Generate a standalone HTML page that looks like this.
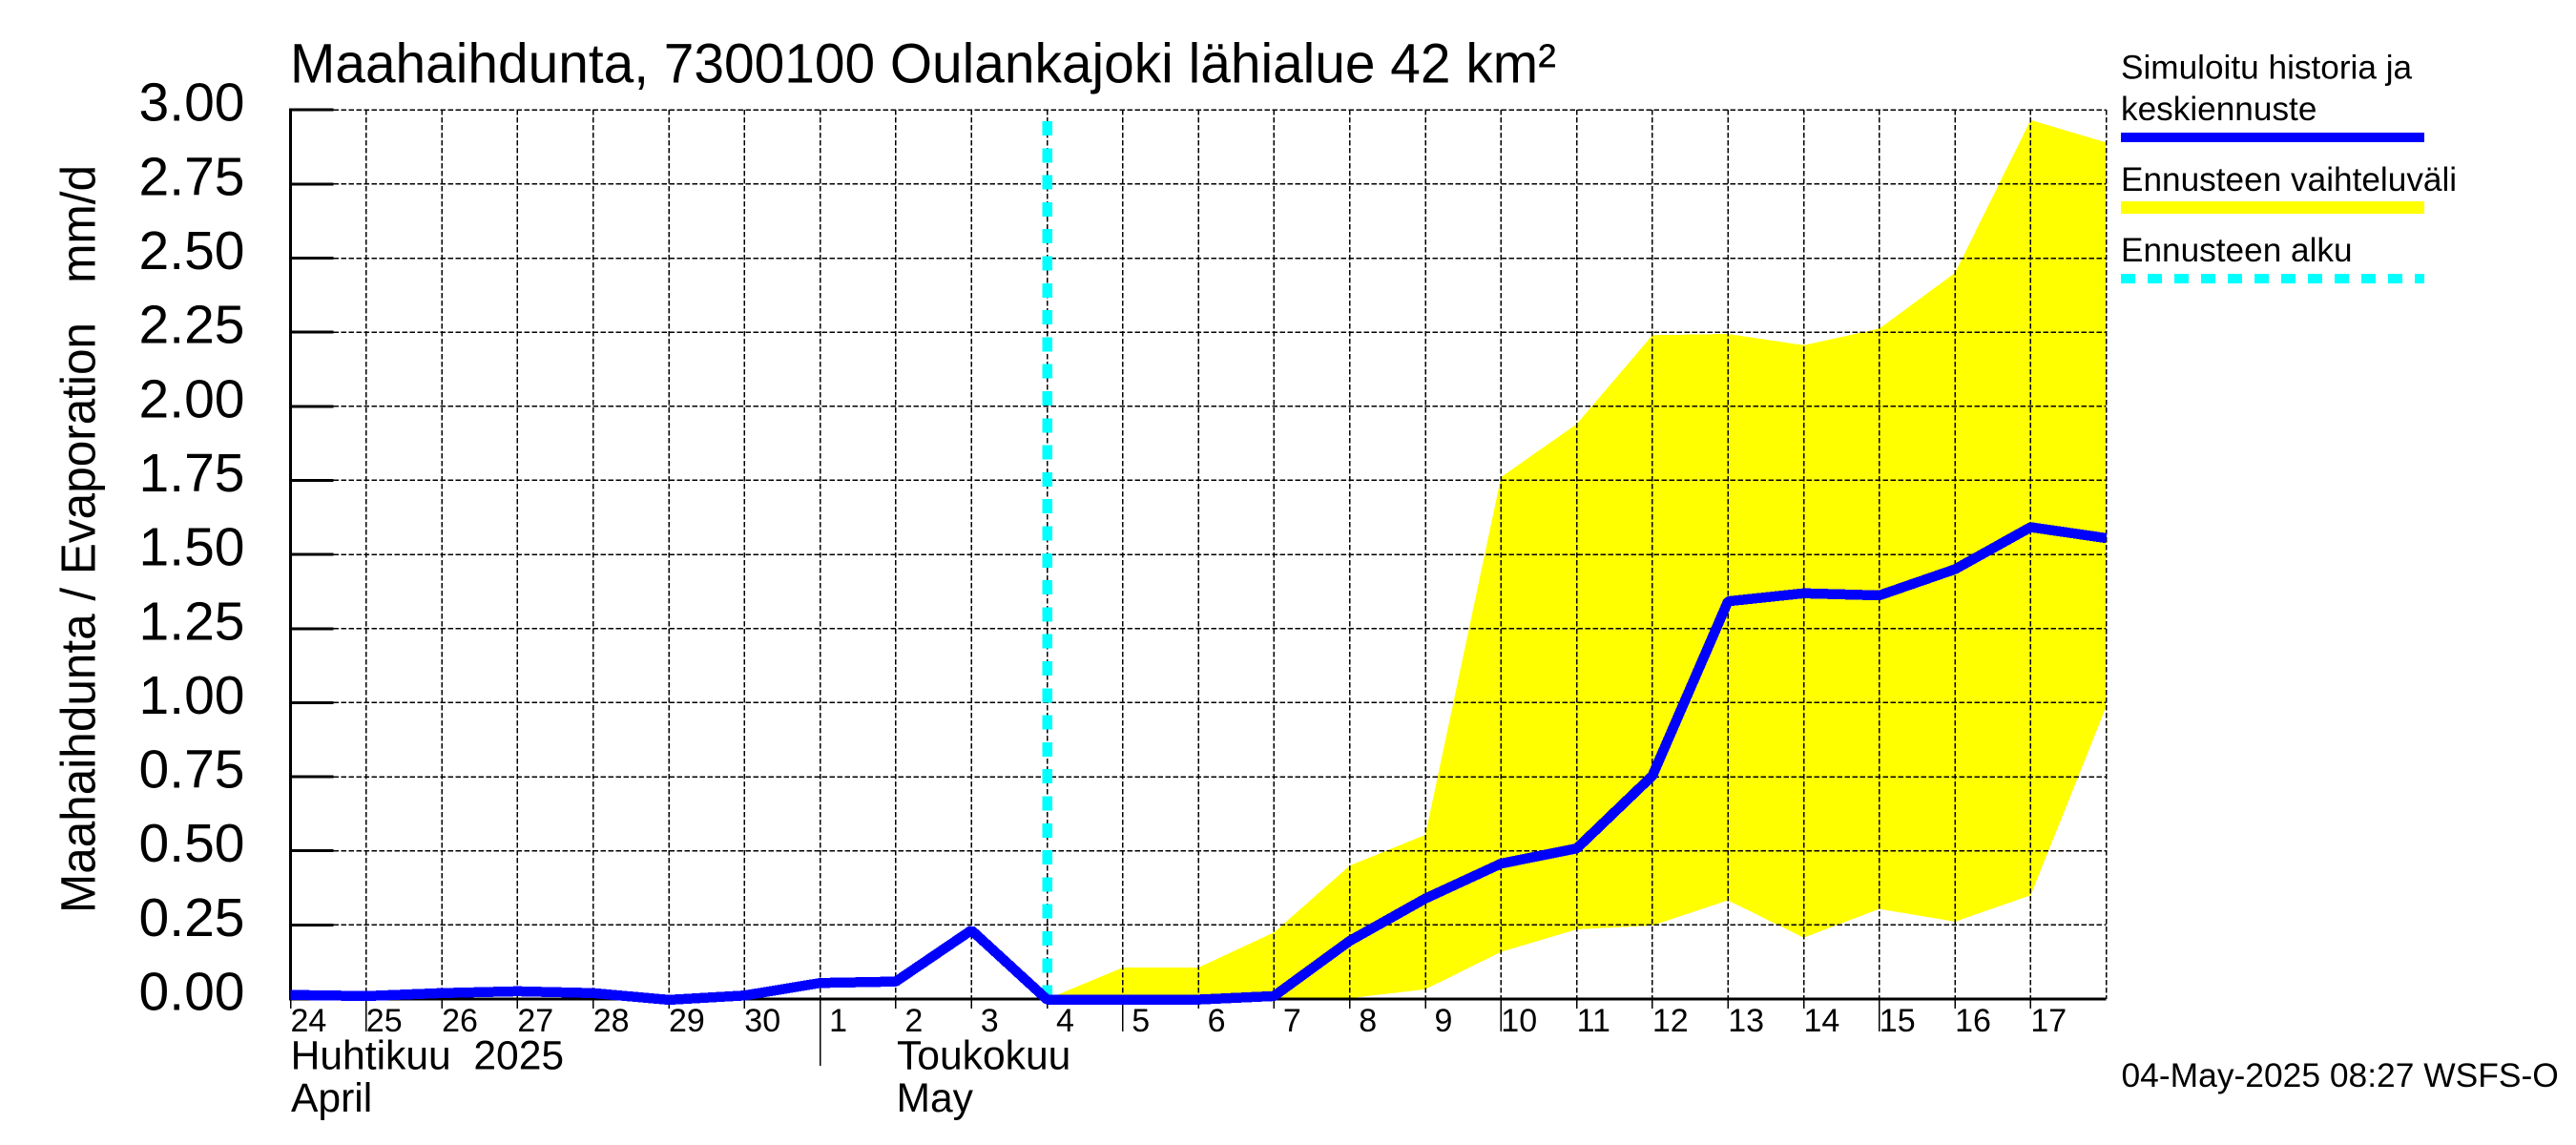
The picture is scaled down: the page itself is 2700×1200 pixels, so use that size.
<!DOCTYPE html>
<html lang="fi">
<head>
<meta charset="utf-8">
<title>Maahaihdunta, 7300100 Oulankajoki lähialue 42 km²</title>
<style>
  html, body { margin: 0; padding: 0; background: #fff; }
  svg { display: block; }
  text { font-family: "Liberation Sans", Arial, sans-serif; fill: #000; white-space: pre; }
</style>
</head>
<body>
<svg id="chart" xmlns="http://www.w3.org/2000/svg" width="2700" height="1200" viewBox="0 0 2700 1200">
  <rect x="0" y="0" width="2700" height="1200" fill="#ffffff"/>
  <text x="304" y="86.7" font-size="58" textLength="1327" lengthAdjust="spacingAndGlyphs">Maahaihdunta, 7300100 Oulankajoki lähialue 42 km²</text>
  <text transform="translate(99.5 957) rotate(-90)" font-size="51" textLength="784" lengthAdjust="spacingAndGlyphs">Maahaihdunta / Evaporation   mm/d</text>

  <g id="series-layer"></g>

  <text x="304.6" y="1120.7" font-size="42.6">Huhtikuu  2025</text>
  <text x="305" y="1165" font-size="42.6">April</text>
  <text x="940" y="1120.7" font-size="42.6">Toukokuu</text>
  <text x="939.5" y="1165" font-size="42.6">May</text>

  <g>
    <text x="2223" y="82.7" font-size="35.2">Simuloitu historia ja</text>
    <text x="2223" y="126" font-size="35.2">keskiennuste</text>
    <rect x="2223" y="139" width="318" height="10" fill="#0000ff" shape-rendering="crispEdges"/>
    <text x="2223" y="200" font-size="35.2">Ennusteen vaihteluväli</text>
    <rect x="2223" y="211" width="318" height="13" fill="#ffff00" shape-rendering="crispEdges"/>
    <text x="2223" y="274" font-size="35.2">Ennusteen alku</text>
    <line x1="2223" y1="292" x2="2541" y2="292" stroke="#00ffff" stroke-width="10" stroke-dasharray="15 13" shape-rendering="crispEdges"/>
  </g>

  <text x="2223.5" y="1139" font-size="35.4">04-May-2025 08:27 WSFS-O</text>
</svg>

<script>
// ---- chart data ----
const dayLabels = ["24","25","26","27","28","29","30","1","2","3","4","5","6","7","8","9","10","11","12","13","14","15","16","17"];
const yTickLabels = ["0.00","0.25","0.50","0.75","1.00","1.25","1.50","1.75","2.00","2.25","2.50","2.75","3.00"];
const yTickValues = [0,0.25,0.5,0.75,1,1.25,1.5,1.75,2,2.25,2.5,2.75,3];
const longTickDays = ["25","5","10","15"];
const monthStartDays = ["1"];
// simulated history + mean forecast, one value per day from 24 April, plus the right-edge value
const simulatedValues = [0.014,0.01,0.02,0.026,0.02,-0.003,0.012,0.054,0.059,0.232,-0.002,-0.002,-0.002,0.01,0.196,0.339,0.457,0.508,0.753,1.342,1.369,1.362,1.45,1.592,1.555];
// forecast band, starting at the forecast start day
const forecastStartIndex = 10;
const forecastUpper = [0,0.106,0.106,0.225,0.45,0.554,1.761,1.94,2.24,2.244,2.206,2.262,2.45,2.966,2.89];
const forecastLower = [0,0,0,0,0.003,0.033,0.159,0.235,0.248,0.333,0.207,0.304,0.261,0.35,0.987];
const forecastLineTop = 2.962;

// ---- axis functions ----
const plotLeft = 304.5, dayWidth = 79.3, zeroY = 1047, unitHeight = 310.6;
const plotRight = plotLeft + dayWidth * 24;
function xAt(i) { return plotLeft + dayWidth * i; }
function yAt(v) { return zeroY - v * unitHeight; }

const NS = "http://www.w3.org/2000/svg";
const layer = document.getElementById("series-layer");
function make(tag, attrs) {
  const el = document.createElementNS(NS, tag);
  for (const k in attrs) el.setAttribute(k, attrs[k]);
  layer.appendChild(el);
  return el;
}

// forecast band
const upperPts = forecastUpper.map((v, i) => xAt(forecastStartIndex + i).toFixed(1) + "," + yAt(v).toFixed(1));
const lowerPts = forecastLower.map((v, i) => xAt(forecastStartIndex + i).toFixed(1) + "," + yAt(v).toFixed(1)).reverse();
const band = make("polygon", { points: upperPts.concat(lowerPts).join(" "), fill: "#ffff00", "shape-rendering": "crispEdges" });



// horizontal grid lines, left ticks and tick labels
yTickValues.forEach((v, i) => {
  const y = yAt(v);
  if (i > 0) {
    const g = make("line", { x1: plotLeft + 45, y1: y, x2: plotRight, y2: y, stroke: "#000", "stroke-width": 1.5, "stroke-dasharray": "5.5 2.5", "shape-rendering": "crispEdges" });
    
    
    const t = make("line", { x1: plotLeft - 1.5, y1: y, x2: plotLeft + 45, y2: y, stroke: "#000", "stroke-width": 3, "shape-rendering": "crispEdges" });
    
    
  }
  const label = make("text", { x: 256.5, y: y + 11.5, "font-size": 57, "text-anchor": "end" });
  label.textContent = yTickLabels[i];
  
  
});

// vertical grid lines, ticks and day labels
dayLabels.forEach((d, i) => {
  const x = xAt(i);
  if (i > 0) {
    const g = make("line", { x1: x, y1: yAt(3), x2: x, y2: zeroY, stroke: "#000", "stroke-width": 1.5, "stroke-dasharray": "5.5 2.5", "shape-rendering": "crispEdges" });
    
    
  }
  let bottom = 1057;
  if (longTickDays.includes(d)) bottom = 1081;
  if (monthStartDays.includes(d)) bottom = 1117;
  const t = make("line", { x1: x, y1: zeroY, x2: x, y2: bottom, stroke: "#000", "stroke-width": 1.5, "shape-rendering": "crispEdges" });
  
  
  const label = make("text", { x: x + (d.length === 1 ? 9.5 : 0), y: 1081, "font-size": 34 });
  label.textContent = d;
  
  
});

// right border of the grid
const rightBorder = make("line", { x1: plotRight, y1: yAt(3), x2: plotRight, y2: zeroY, stroke: "#000", "stroke-width": 1.5, "stroke-dasharray": "5.5 2.5", "shape-rendering": "crispEdges" });



// axes
const yAxis = make("line", { x1: plotLeft, y1: yAt(3) - 1.5, x2: plotLeft, y2: zeroY + 1.5, stroke: "#000", "stroke-width": 3, "shape-rendering": "crispEdges" });


const xAxis = make("line", { x1: plotLeft, y1: zeroY, x2: plotRight, y2: zeroY, stroke: "#000", "stroke-width": 3, "shape-rendering": "crispEdges" });



// forecast start marker
const startLine = make("line", { x1: xAt(forecastStartIndex), y1: yAt(forecastLineTop), x2: xAt(forecastStartIndex), y2: yAt(0), stroke: "#00ffff", "stroke-width": 10.5, "stroke-dasharray": "15 13.3", "shape-rendering": "crispEdges" });



// simulated / mean forecast line
const simLine = make("polyline", { points: simulatedValues.map((v, i) => xAt(i).toFixed(1) + "," + yAt(v).toFixed(1)).join(" "), fill: "none", stroke: "#0000ff", "stroke-width": 10.5, "stroke-linejoin": "bevel", "shape-rendering": "crispEdges" });


</script>
</body>
</html>
